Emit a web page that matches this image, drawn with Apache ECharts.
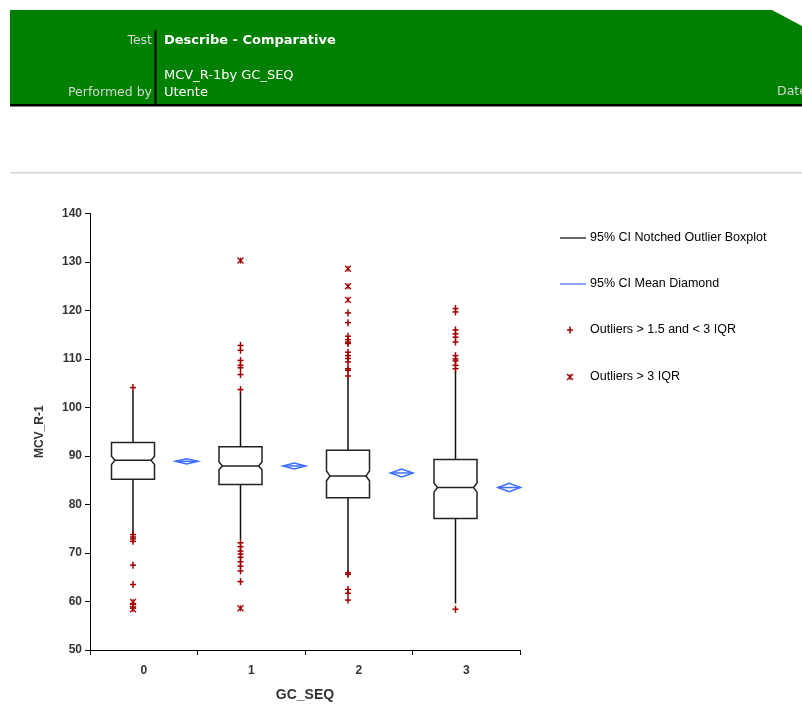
<!DOCTYPE html>
<html>
<head>
<meta charset="utf-8">
<script src="https://cdn.jsdelivr.net/npm/echarts@6/dist/echarts.min.js"></script>
<style>
html,body{margin:0;padding:0;background:#fff;}
#chart{width:802px;height:704px;}
</style>
</head>
<body>
<div id="chart"></div>
<script>
// ---- data ----
const categories = ['0', '1', '2', '3'];
const whiskerLow  = [74.0, 72.8, 66.3, 59.6];
const q1          = [85.2, 84.1, 81.4, 77.1];
const medians     = [89.1, 87.95, 85.9, 83.5];
const q3          = [92.8, 91.9, 91.2, 89.3];
const whiskerHigh = [103.5, 103.2, 106.2, 107.6];
const notchHalf   = [0.85, 0.8, 1.0, 0.95];
const means       = [88.9, 87.95, 86.5, 83.5];
const meanCILow   = [88.35, 87.35, 85.7, 82.65];
const meanCIHigh  = [89.45, 88.55, 87.3, 84.35];
const outliersMild = [
  [104.1, 73.8, 73.3, 72.9, 72.4, 67.5, 63.5],
  [112.8, 111.8, 109.7, 108.7, 108.2, 106.8, 103.7, 72.1, 71.3, 70.4, 69.8, 69.1, 68.2, 67.3, 66.3, 64.1],
  [119.5, 117.5, 114.7, 114.0, 113.5, 113.2, 111.4, 110.7, 110.1, 109.4, 108.0, 107.7, 106.5, 65.9, 65.6, 62.5, 61.7, 60.3],
  [120.4, 119.7, 116.0, 115.2, 114.5, 113.5, 110.7, 110.0, 109.6, 108.7, 108.0, 58.4]
];
const outliersExtreme = [
  [59.9, 59.1, 58.4],
  [130.3, 58.6],
  [128.6, 125.0, 122.2],
  []
];
const yTicks = {min: 50, max: 140, interval: 10};
const legendLabels = ['95% CI Notched Outlier Boxplot', '95% CI Mean Diamond', 'Outliers > 1.5 and < 3 IQR', 'Outliers > 3 IQR'];

// ---- layout constants ----
const BOX_OFFSET = -0.1, BOX_W = 0.4, DIA_OFFSET = 0.4, DIA_W = 0.21;
const RED = '#a00000', BLUE = '#3f6fff';

const boxData = categories.map((c, i) => [i + BOX_OFFSET, whiskerLow[i], q1[i], medians[i], q3[i], whiskerHigh[i], notchHalf[i]]);
const diaData = categories.map((c, i) => [i + DIA_OFFSET, meanCILow[i], means[i], meanCIHigh[i]]);
const mildData = [], extData = [];
outliersMild.forEach((arr, i) => arr.forEach(v => mildData.push([i + BOX_OFFSET, v])));
outliersExtreme.forEach((arr, i) => arr.forEach(v => extData.push([i + BOX_OFFSET, v])));

function renderBox(params, api) {
  const x = api.value(0);
  const wl = api.value(1), lq = api.value(2), md = api.value(3), uq = api.value(4), wh = api.value(5), nh = api.value(6);
  const cx = api.coord([x, md])[0];
  const yMed = api.coord([x, md])[1];
  const yQ1 = api.coord([x, lq])[1], yQ3 = api.coord([x, uq])[1];
  const yWL = api.coord([x, wl])[1], yWH = api.coord([x, wh])[1];
  const yNT = api.coord([x, md + nh])[1], yNB = api.coord([x, md - nh])[1];
  const half = api.size([BOX_W, 0])[0] / 2;
  const d = half * 0.16;
  const st = {stroke: '#222', lineWidth: 1.5, fill: null};
  return {
    type: 'group',
    children: [
      {type: 'line', shape: {x1: cx, y1: yQ3, x2: cx, y2: yWH}, style: {stroke: '#111', lineWidth: 1.5}},
      {type: 'line', shape: {x1: cx, y1: yQ1, x2: cx, y2: yWL}, style: {stroke: '#111', lineWidth: 1.5}},
      {type: 'polygon', shape: {points: [
        [cx - half, yQ3], [cx - half, yNT], [cx - half + d, yMed], [cx - half, yNB], [cx - half, yQ1],
        [cx + half, yQ1], [cx + half, yNB], [cx + half - d, yMed], [cx + half, yNT], [cx + half, yQ3]
      ]}, style: {stroke: '#222', lineWidth: 1.5, fill: '#fff'}},
      {type: 'line', shape: {x1: cx - half + d, y1: yMed, x2: cx + half - d, y2: yMed}, style: st}
    ]
  };
}

function renderDiamond(params, api) {
  const x = api.value(0);
  const lo = api.value(1), m = api.value(2), hi = api.value(3);
  const cx = api.coord([x, m])[0], ym = api.coord([x, m])[1];
  const yl = api.coord([x, lo])[1], yh = api.coord([x, hi])[1];
  const hw = api.size([DIA_W, 0])[0] / 2;
  return {
    type: 'group',
    children: [
      {type: 'polygon', shape: {points: [[cx - hw, ym], [cx, yh], [cx + hw, ym], [cx, yl]]},
        style: {stroke: BLUE, lineWidth: 1.5, fill: '#fff'}},
      {type: 'line', shape: {x1: cx - hw, y1: ym, x2: cx + hw, y2: ym}, style: {stroke: BLUE, lineWidth: 1.5}}
    ]
  };
}

function plusShape(cx, cy) {
  return [
    {type: 'line', shape: {x1: cx - 3, y1: cy, x2: cx + 3, y2: cy}, style: {stroke: RED, lineWidth: 1.5}},
    {type: 'line', shape: {x1: cx, y1: cy - 3.5, x2: cx, y2: cy + 3.5}, style: {stroke: RED, lineWidth: 1.5}}
  ];
}
function starShape(cx, cy) {
  return [
    {type: 'line', shape: {x1: cx - 3, y1: cy - 3, x2: cx + 3, y2: cy + 3}, style: {stroke: RED, lineWidth: 1.2}},
    {type: 'line', shape: {x1: cx - 3, y1: cy + 3, x2: cx + 3, y2: cy - 3}, style: {stroke: RED, lineWidth: 1.2}},
    {type: 'line', shape: {x1: cx, y1: cy - 3, x2: cx, y2: cy + 3}, style: {stroke: RED, lineWidth: 1.2}}
  ];
}
function renderMild(params, api) {
  const p = api.coord([api.value(0), api.value(1)]);
  return {type: 'group', children: plusShape(p[0], p[1])};
}
function renderExt(params, api) {
  const p = api.coord([api.value(0), api.value(1)]);
  return {type: 'group', children: starShape(p[0], p[1])};
}

const hdrFont = '"DejaVu Sans", Verdana, sans-serif';
const chartFont = '"Liberation Sans", Arial, sans-serif';

const legendY = [238, 284, 330, 377];
const legendGraphics = [
  {type: 'line', shape: {x1: 560, y1: legendY[0], x2: 586, y2: legendY[0]}, style: {stroke: '#000', lineWidth: 1.2}},
  {type: 'line', shape: {x1: 560, y1: legendY[1], x2: 586, y2: legendY[1]}, style: {stroke: BLUE, lineWidth: 1.2}},
  {type: 'group', children: plusShape(570, legendY[2])},
  {type: 'group', children: starShape(570, legendY[3])}
];
legendLabels.forEach((t, i) => {
  legendGraphics.push({type: 'text', x: 590, y: legendY[i], style: {text: t, font: '12.5px ' + chartFont, fill: '#000', verticalAlign: 'middle', align: 'left'}});
});

const headerGraphics = [
  {type: 'polygon', shape: {points: [[10, 10], [772, 10], [802, 26], [802, 106], [10, 106]]}, style: {fill: '#008000'}},
  {type: 'rect', shape: {x: 10, y: 104, width: 792, height: 2.5}, style: {fill: '#000'}},
  {type: 'rect', shape: {x: 154.5, y: 30, width: 2, height: 75}, style: {fill: '#000'}},
  {type: 'text', x: 152, y: 41, style: {text: 'Test', font: '12.5px ' + hdrFont, fill: '#d0d8d0', align: 'right', verticalAlign: 'middle'}},
  {type: 'text', x: 164, y: 41, style: {text: 'Describe - Comparative', font: 'bold 13px ' + hdrFont, fill: '#fff', align: 'left', verticalAlign: 'middle'}},
  {type: 'text', x: 164, y: 76, style: {text: 'MCV_R-1by GC_SEQ', font: '13px ' + hdrFont, fill: '#fff', align: 'left', verticalAlign: 'middle'}},
  {type: 'text', x: 152, y: 93, style: {text: 'Performed by', font: '12.5px ' + hdrFont, fill: '#d0d8d0', align: 'right', verticalAlign: 'middle'}},
  {type: 'text', x: 164, y: 93, style: {text: 'Utente', font: '13px ' + hdrFont, fill: '#fff', align: 'left', verticalAlign: 'middle'}},
  {type: 'text', x: 777, y: 92, style: {text: 'Date', font: '12.5px ' + hdrFont, fill: '#d0d8d0', align: 'left', verticalAlign: 'middle'}},
  {type: 'rect', shape: {x: 10, y: 172, width: 792, height: 1.5}, style: {fill: '#d4d4d4'}}
];

const chart = echarts.init(document.getElementById('chart'), null, {renderer: 'canvas'});
chart.setOption({
  animation: false,
  backgroundColor: '#fff',
  textStyle: {fontFamily: chartFont},
  grid: {left: 90, top: 213.5, right: 282, bottom: 54, containLabel: false, outerBoundsMode: 'none'},
  graphic: headerGraphics.concat(legendGraphics),
  xAxis: [
    {
      type: 'category', data: categories, boundaryGap: true,
      axisLine: {lineStyle: {color: '#000', width: 1}},
      axisTick: {show: true, length: 5, alignWithLabel: false, lineStyle: {color: '#000'}},
      axisLabel: {color: '#333', fontSize: 12, fontWeight: 'bold', margin: 15, fontFamily: chartFont},
      splitLine: {show: false},
      name: 'GC_SEQ', nameLocation: 'middle', nameGap: 38,
      nameTextStyle: {color: '#333', fontSize: 14, fontWeight: 'bold', fontFamily: chartFont}
    },
    {type: 'value', min: -0.5, max: 3.5, show: false}
  ],
  yAxis: {
    type: 'value', min: yTicks.min, max: yTicks.max, interval: yTicks.interval,
    axisLine: {show: true, onZero: false, lineStyle: {color: '#000', width: 1}},
    axisTick: {show: true, length: 5, lineStyle: {color: '#000'}},
    axisLabel: {color: '#333', fontSize: 12, fontWeight: 'bold', margin: 8, fontFamily: chartFont},
    splitLine: {show: false},
    name: 'MCV_R-1', nameLocation: 'middle', nameGap: 44, nameRotate: 90,
    nameTextStyle: {color: '#333', fontSize: 12, fontWeight: 'bold', fontFamily: chartFont}
  },
  series: [
    {type: 'custom', name: 'Boxplot', xAxisIndex: 1, renderItem: renderBox, data: boxData, encode: {x: 0, y: [1, 2, 3, 4, 5]}, clip: false},
    {type: 'custom', name: 'Mean Diamond', xAxisIndex: 1, renderItem: renderDiamond, data: diaData, encode: {x: 0, y: [1, 2, 3]}},
    {type: 'custom', name: 'Outliers mild', xAxisIndex: 1, renderItem: renderMild, data: mildData, encode: {x: 0, y: 1}},
    {type: 'custom', name: 'Outliers extreme', xAxisIndex: 1, renderItem: renderExt, data: extData, encode: {x: 0, y: 1}}
  ]
});
</script>
</body>
</html>
